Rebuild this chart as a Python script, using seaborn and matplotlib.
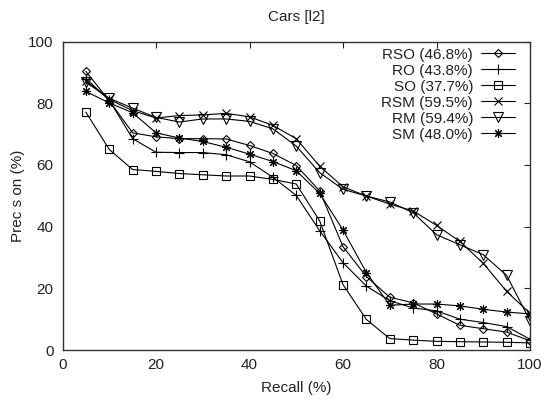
import matplotlib
matplotlib.use("Agg")
import matplotlib.pyplot as plt
import seaborn as sns
import pandas as pd

recall = [5, 10, 15, 20, 25, 30, 35, 40, 45, 50, 55, 60, 65, 70, 75, 80, 85, 90, 95, 100]

rso = [90.3, 80.8, 70.4, 69.1, 68.5, 68.5, 68.4, 66.3, 63.7, 59.8, 51.6, 33.5, 23.8, 17.1, 15.3, 11.7, 8.0, 6.9, 5.8, 3.0]
ro  = [88.0, 81.0, 68.5, 64.1, 64.0, 64.0, 63.3, 61.0, 56.0, 50.1, 38.7, 28.3, 20.7, 16.0, 13.6, 12.7, 10.0, 8.9, 7.6, 3.5]
so  = [77.1, 65.0, 58.5, 57.9, 57.2, 56.8, 56.4, 56.4, 55.3, 53.8, 41.9, 21.2, 9.9, 3.7, 3.2, 2.8, 2.7, 2.6, 2.5, 2.3]
rsm = [87.3, 81.2, 77.6, 75.2, 76.0, 76.2, 76.7, 75.6, 72.8, 68.5, 59.6, 52.9, 49.9, 47.3, 45.1, 40.4, 35.2, 28.1, 19.0, 11.9]
rm  = [86.8, 81.6, 78.4, 75.4, 73.9, 74.9, 74.9, 74.1, 71.7, 66.1, 57.5, 52.1, 49.9, 48.0, 44.5, 37.4, 34.1, 30.9, 24.2, 9.5]
sm  = [83.8, 80.1, 76.9, 70.4, 68.7, 67.6, 65.7, 63.5, 61.1, 58.1, 50.8, 38.9, 25.1, 14.5, 14.9, 14.9, 14.3, 13.2, 12.3, 11.7]

labels = ["RSO (46.8%)", "RO (43.8%)", "SO (37.7%)", "RSM (59.5%)", "RM (59.4%)", "SM (48.0%)"]
series = [rso, ro, so, rsm, rm, sm]

x_ticks = [0, 20, 40, 60, 80, 100]
y_ticks = [0, 20, 40, 60, 80, 100]

sns.set_style("white")
plt.rcParams["font.family"] = ["Liberation Sans", "DejaVu Sans"]

markers = ["D", "+", "s", "x", "v", (8, 2, 0)]
msizes = [4.5, 6.5, 6.3, 5.8, 7.2, 6.5]

fig = plt.figure(figsize=(5.44, 4.01), dpi=100)
ax = fig.add_axes([62.5 / 544, 1 - 350 / 401, (530 - 62.5) / 544, (350 - 41.5) / 401])

rows = []
for lab, vals in zip(labels, series):
    for r, v in zip(recall, vals):
        rows.append({"Recall": r, "Precision": v, "series": lab})
df = pd.DataFrame(rows)

for lab, m, ms in zip(labels, markers, msizes):
    sub = df[df["series"] == lab]
    sns.lineplot(data=sub, x="Recall", y="Precision", ax=ax, color="black",
                 marker=m, markersize=ms, mfc="none", mec="black", mew=0.8,
                 lw=0.8, label=lab)

ax.set_xlim(0, 100)
ax.set_ylim(0, 100)
ax.set_xticks(x_ticks)
ax.set_yticks(y_ticks)
ax.tick_params(direction="in", length=4, width=0.8, top=True, right=True,
               labelsize=11, colors="#222222", pad=6)
ax.tick_params(axis="y", pad=6.5)
for s in ax.spines.values():
    s.set_color("#333333")
    s.set_linewidth(1.0)
    s.set_visible(True)

ax.set_xlabel("Recall (%)", fontsize=11, labelpad=6, color="#222222")
ax.set_ylabel("Prec s on (%)", fontsize=11, labelpad=2, color="#222222")
ax.set_title("Cars [l2]", fontsize=11, pad=15, color="#222222")

leg = ax.legend(loc="upper right", bbox_to_anchor=(0.968, 0.98), frameon=False,
                markerfirst=False, fontsize=11, handlelength=2.2,
                handletextpad=0.55, labelspacing=0.13, borderpad=0,
                borderaxespad=0)
for t in leg.get_texts():
    t.set_color("#222222")

fig.savefig("out.png", dpi=100)
